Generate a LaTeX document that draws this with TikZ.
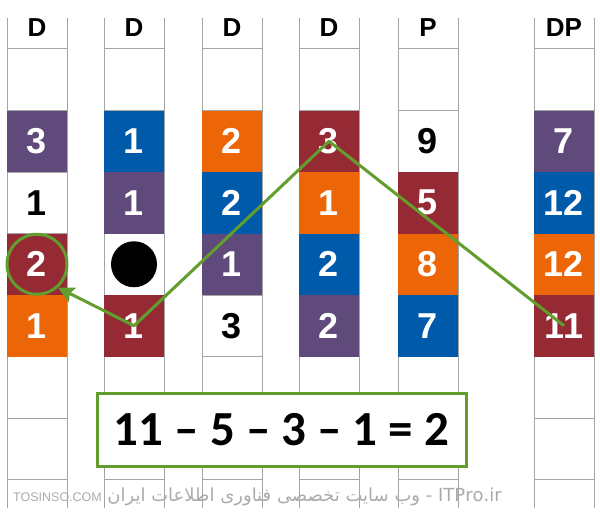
\documentclass[tikz,border=0pt]{standalone}
\usepackage{fontspec}
\setmainfont{Liberation Sans}
\newfontfamily\calibrifont{Carlito}
\TeXXeTstate=1
\newfontfamily\arabicfont[Script=Arabic]{DejaVu Sans}
\usetikzlibrary{arrows.meta}
\definecolor{cpurple}{RGB}{96,74,123}
\definecolor{cblue}{RGB}{0,90,170}
\definecolor{corange}{RGB}{236,102,8}
\definecolor{cred}{RGB}{150,42,52}
\definecolor{cgreen}{RGB}{98,158,46}
\definecolor{cgrid}{RGB}{165,165,165}
\tikzset{
  gridline/.style={cgrid,line width=1pt},
  cell/.style={minimum width=60pt,minimum height=61.5pt,inner sep=0pt,
    font=\fontsize{36}{36}\selectfont\bfseries},
  head/.style={font=\fontsize{26}{26}\selectfont\bfseries,inner sep=0pt},
  greenline/.style={cgreen,line width=3pt,line join=round},
  sumbox/.style={draw=cgreen,line width=3pt,fill=white,minimum width=369pt,
    minimum height=73pt,inner sep=0pt,font=\calibrifont\fontsize{49}{49}\selectfont\bfseries},
  watermark/.style={text=black!33,inner sep=0pt}
}
\begin{document}
\begin{tikzpicture}[x=1pt,y=-1pt]
  \useasboundingbox[fill=white] (0,0) rectangle (600,519);
  % columns
  \foreach \x/\h [count=\i] in {7/D,104/D,202/D,299/D,398/P,534/DP}{
    \draw[gridline] (\x,18) -- (\x,508) (\x+60,18) -- (\x+60,508);
    \foreach \k in {0,...,7}
      \draw[gridline] (\x,49+61.5*\k) -- (\x+60,49+61.5*\k);
    \node[head] (head\i) at (\x+30,28) {\h};
  }
  % cells
  \foreach \c/\r/\fc/\tc/\t in {
      1/1/cpurple/white/3, 1/2/none/black/1, 1/3/cred/white/2, 1/4/corange/white/1,
      2/1/cblue/white/1, 2/2/cpurple/white/1, 2/3/none/black/, 2/4/cred/white/1,
      3/1/corange/white/2, 3/2/cblue/white/2, 3/3/cpurple/white/1, 3/4/none/black/3,
      4/1/cred/white/3, 4/2/corange/white/1, 4/3/cblue/white/2, 4/4/cpurple/white/2,
      5/1/none/black/9, 5/2/cred/white/5, 5/3/corange/white/8, 5/4/cblue/white/7,
      6/1/cpurple/white/7, 6/2/cblue/white/12, 6/3/corange/white/12, 6/4/cred/white/11}{
    \pgfmathsetmacro\x{{7,104,202,299,398,534}[\c-1]}
    \node[cell,fill=\fc,text=\tc] (c\c r\r) at (\x+30,49+61.5*\r+30.75) {\t};
  }
  \node[circle,fill=black,minimum size=46pt,inner sep=0pt] (dot) at (c2r3) {};
  \node[circle,draw=cgreen,line width=3pt,minimum size=60pt,inner sep=0pt] (ring) at (c1r3) {};

  \draw[greenline,-{Stealth[length=16pt,width=16pt,inset=3pt]}]
    (c6r4.center) -- (c4r1.center) -- (c2r4.center) -- (ring.-48);

  \node[sumbox] (sum) at (281.5,429.5) {11 – 5 – 3 – 1 = 2};

  \node[watermark,anchor=base west,font=\fontsize{12.5}{12.5}\selectfont] (tosinso) at (13,501) {TOSINSO.COM};
  \node[watermark,anchor=base east,font=\arabicfont\fontsize{18}{18}\selectfont] (itpro) at (502,501)
    {\beginR\beginL ITPro.ir\endL{} - وب سایت تخصصی فناوری اطلاعات ایران\endR};
\end{tikzpicture}
\end{document}
